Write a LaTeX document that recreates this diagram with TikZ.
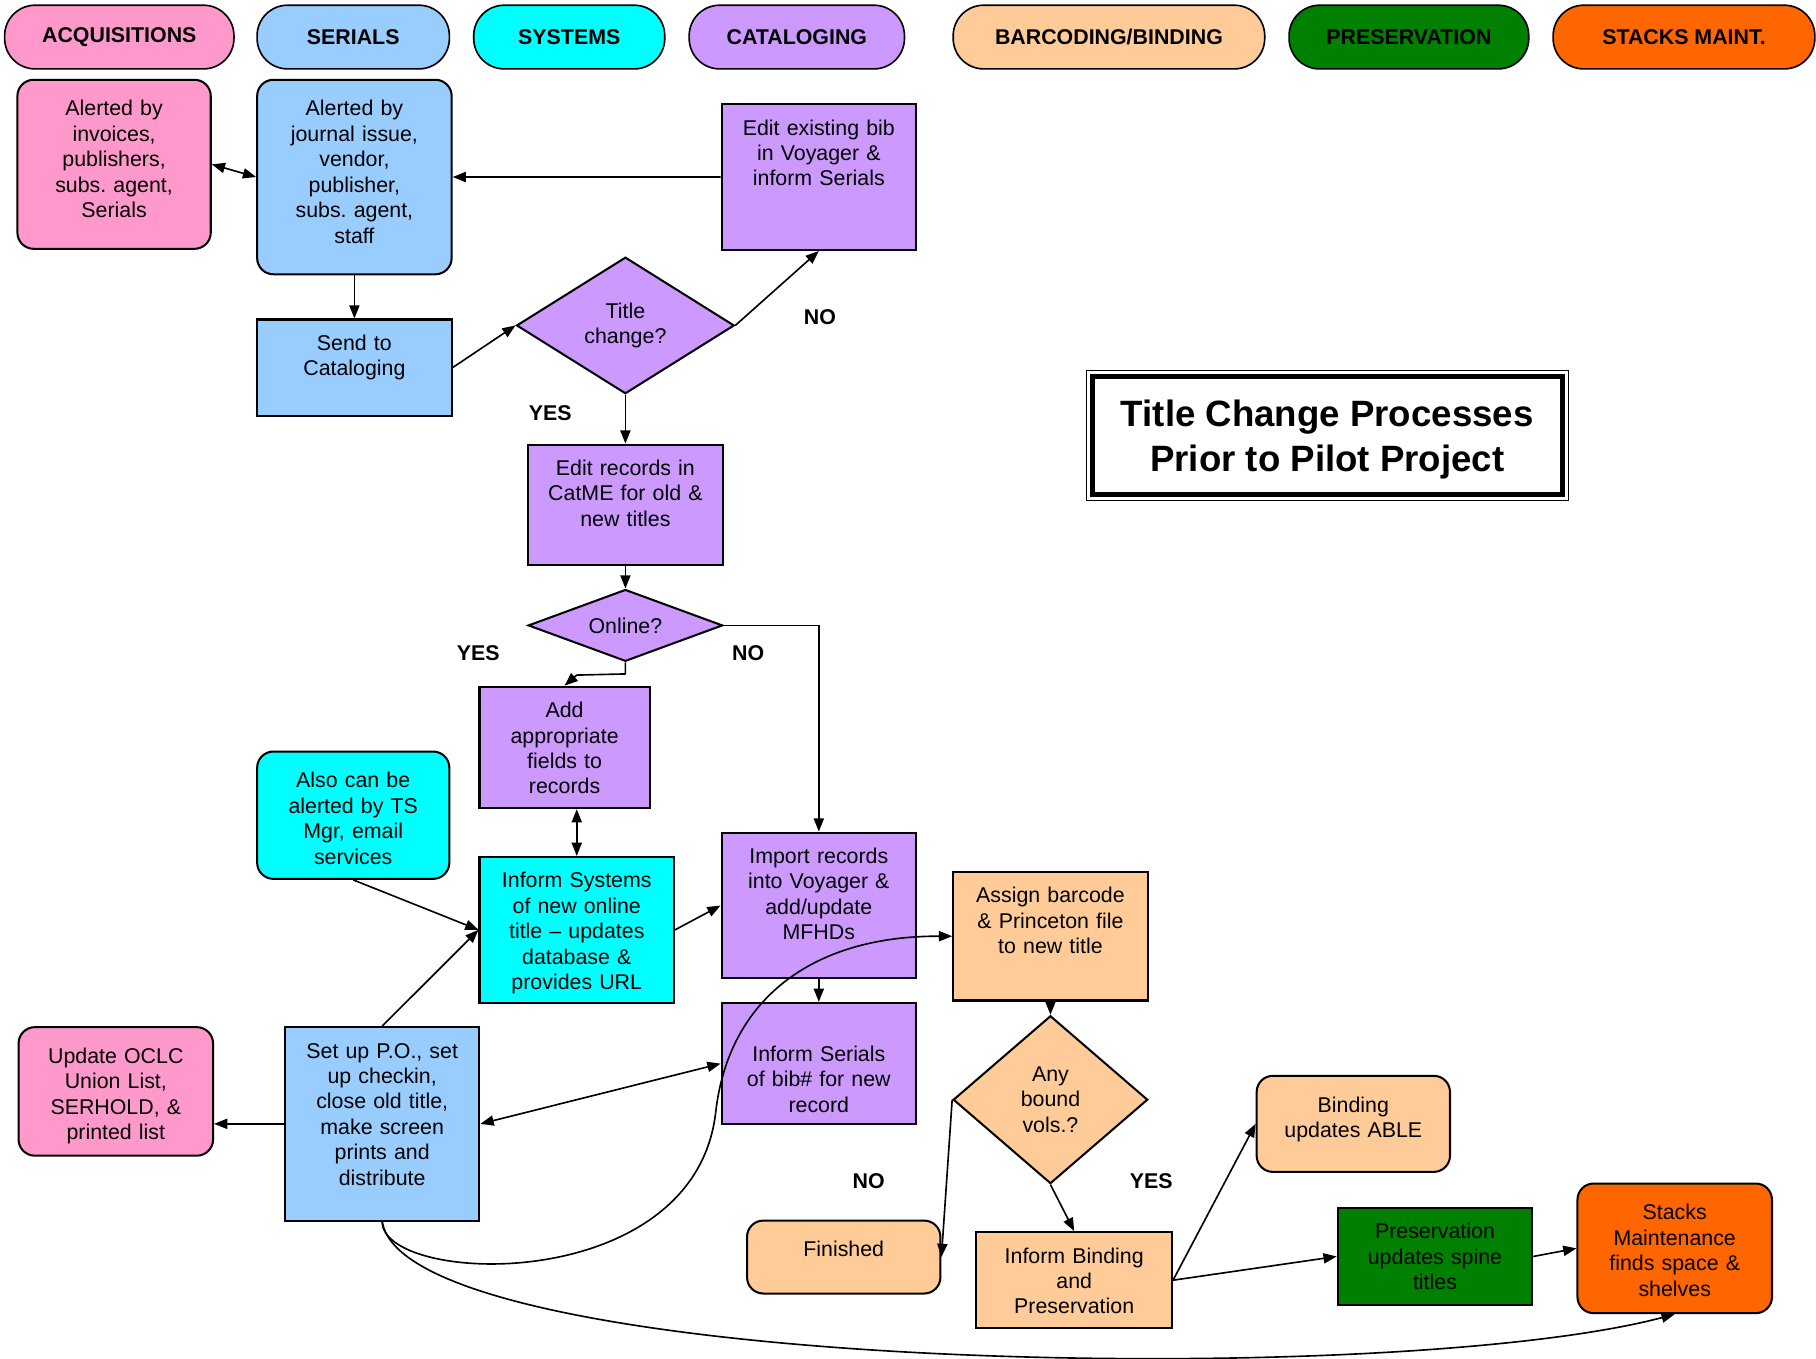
\documentclass[tikz,border=0pt]{standalone}
\usepackage{fontspec}
\setmainfont{Liberation Sans}
\usepackage{tikz}
\usetikzlibrary{shapes.geometric, arrows.meta}
\frenchspacing

\definecolor{acqpink}{HTML}{FF99CC}
\definecolor{serblue}{HTML}{99CCFF}
\definecolor{syscyan}{HTML}{00FFFF}
\definecolor{catpurple}{HTML}{CC99FF}
\definecolor{barpeach}{HTML}{FFCC99}
\definecolor{presgreen}{HTML}{008000}
\definecolor{stkorange}{HTML}{FF6600}

\begin{document}
\begin{tikzpicture}[x=0.02cm, y=-0.02cm, >={Triangle[length=6.5pt, width=5pt]},
    lane/.style={draw, line width=0.8pt, rounded corners=15pt, minimum height=31.3pt,
        font=\fontsize{10.5}{12.5}\selectfont\bfseries},
    stepbox/.style 2 args={draw, line width=1pt, anchor=north, align=center,
        inner xsep=3pt, inner ysep=6.8pt, text height=8.4pt,
        text width={#1*0.569pt-6pt}, text depth={#2*0.569pt-22pt},
        font=\fontsize{10.5}{12.5}\selectfont},
    roundbox/.style 2 args={stepbox={#1}{#2}, rounded corners=8pt,
        text height=11pt, text depth={#2*0.569pt-24.6pt}},
    decision/.style={draw, diamond, line width=1pt, inner sep=0pt, align=center,
        font=\fontsize{10.5}{12.5}\selectfont},
    answer/.style={font=\fontsize{10.5}{12.5}\selectfont\bfseries},
    link/.style={line width=0.8pt}]
    \useasboundingbox (0,0) rectangle (1568,1173);

    % Lanes
    \node[lane, fill=acqpink, minimum width=112.7pt] (hAcq) at (103,32) {ACQUISITIONS};
    \node[lane, fill=serblue, minimum width=94.5pt] (hSer) at (305,32) {SERIALS};
    \node[lane, fill=syscyan, minimum width=93.9pt] (hSys) at (491.5,32) {SYSTEMS};
    \node[lane, fill=catpurple, minimum width=105.8pt] (hCat) at (688,32) {CATALOGING};
    \node[lane, fill=barpeach, minimum width=153.1pt] (hBar) at (957.5,32) {BARCODING/BINDING};
    \node[lane, fill=presgreen, minimum width=117.8pt] (hPre) at (1216.5,32) {PRESERVATION};
    \node[lane, fill=stkorange, minimum width=128.6pt] (hStk) at (1454,32) {STACKS MAINT.};

    % Title
    \node[draw, line width=2.4pt, outer sep=0pt, minimum width=231pt, minimum height=58pt, align=center,
        text depth=0pt, font=\fontsize{18}{22}\selectfont\bfseries] (title) at (1146,376) {Title Change Processes\\Prior to Pilot Project};
    \draw[line width=0.6pt] ([shift={(-2.9pt,2.9pt)}]title.north west) rectangle ([shift={(2.9pt,-2.9pt)}]title.south east);

    % Alerts and cataloging
    \node[roundbox={167}{146}, fill=acqpink] (acqAlert) at (98.5,68) {Alerted by\\invoices,\\publishers,\\subs. agent,\\Serials};
    \node[roundbox={168}{168}, fill=serblue] (serAlert) at (306,68) {Alerted by\\journal issue,\\vendor,\\publisher,\\subs. agent,\\staff};
    \node[stepbox={168}{126}, fill=catpurple] (editBib) at (707,89) {Edit existing bib\\in Voyager \&\\inform Serials};
    \node[stepbox={168}{83}, fill=serblue] (sendCat) at (306,275) {Send to\\Cataloging};
    \node[decision, fill=catpurple, minimum width=107pt, minimum height=67.1pt, aspect=1.6] (titleQ) at (540,281) {Title\\change?};
    \node[stepbox={168}{104}, fill=catpurple] (editRec) at (540,383) {Edit records in\\CatME for old \&\\new titles};
    \node[decision, fill=catpurple, minimum width=95.6pt, minimum height=35.3pt, aspect=2.7] (onlineQ) at (540,540) {Online?};
    \node[stepbox={147}{105}, fill=catpurple] (addFields) at (487.5,592) {Add\\appropriate\\fields to\\records};
    \node[roundbox={166}{110}, fill=syscyan] (alsoTS) at (305,648) {Also can be\\alerted by TS\\Mgr, email\\services};
    \node[stepbox={168}{126}, fill=syscyan] (informSys) at (498,739) {Inform Systems\\of new online\\title – updates\\database \&\\provides URL};
    \node[stepbox={168}{126}, fill=catpurple] (importRec) at (707,718) {Import records\\into Voyager \&\\add/update\\MFHDs};
    \node[stepbox={168}{105}, fill=catpurple, text height=22pt, text depth={105*0.569pt-35.6pt}] (informSer) at (707,865) {Inform Serials\\of bib\# for new\\record};

    % Serials and acquisitions follow-up
    \node[roundbox={168}{111}, fill=acqpink] (updOCLC) at (100,886) {Update OCLC\\Union List,\\SERHOLD, \&\\printed list};
    \node[stepbox={168}{167}, fill=serblue] (setupPO) at (330,886) {Set up P.O., set\\up checkin,\\close old title,\\make screen\\prints and\\distribute};

    % Barcoding, binding, preservation, stacks
    \node[stepbox={168}{111}, fill=barpeach] (assignBar) at (907,752) {Assign barcode\\\& Princeton file\\to new title};
    \node[decision, fill=barpeach, minimum width=95.6pt, minimum height=82.5pt, aspect=1.16] (boundQ) at (907,949.5) {Any\\bound\\vols.?};
    \node[roundbox={167}{83}, fill=barpeach] (bindABLE) at (1168.5,928) {Binding\\updates ABLE};
    \node[roundbox={167}{63}, fill=barpeach] (finished) at (728.5,1053) {Finished};
    \node[stepbox={169}{83}, fill=barpeach] (informBind) at (927.5,1063) {Inform Binding\\and\\Preservation};
    \node[stepbox={168}{84}, fill=presgreen] (presSpine) at (1239,1042) {Preservation\\updates spine\\titles};
    \node[roundbox={168}{112}, fill=stkorange] (stacksShelf) at (1446,1021) {Stacks\\Maintenance\\finds space \&\\shelves};

    % YES / NO
    \node[answer] (noBib) at (708,274) {NO};
    \node[answer] (yesEdit) at (475,357) {YES};
    \node[answer] (yesAdd) at (413,564) {YES};
    \node[answer] (noImport) at (646,564) {NO};
    \node[answer] (noDone) at (750,1020) {NO};
    \node[answer] (yesBind) at (994,1020) {YES};

    % Connectors
    \draw[link, <->] (acqAlert.east) -- (serAlert.west);
    \draw[link, ->] (editBib.west) -- (serAlert.east);
    \draw[link, ->] (serAlert.south) -- (sendCat.north);
    \draw[link, ->] (sendCat.east) -- (titleQ.west);
    \draw[link, ->] (titleQ.east) -- (editBib.south);
    \draw[link, ->] (titleQ.south) -- (editRec.north);
    \draw[link, ->] (editRec.south) -- (onlineQ.north);
    \draw[link, ->] (onlineQ.south) -- ++(0,10) -- ++(-42,1) -- (addFields.north);
    \draw[link, ->] (onlineQ.east) -| (importRec.north);
    \draw[link, <->] (informSys.north |- addFields.south) -- (informSys.north);
    \draw[link, ->] (alsoTS.south) -- (informSys.west);
    \draw[link, ->] (setupPO.north) -- (informSys.west);
    \draw[link, ->] (informSys.east) -- (importRec.west);
    \draw[link, ->] (importRec.south) -- (informSer.north);
    \draw[link, <->] (setupPO.east) -- (informSer.west);
    \draw[link, ->] (setupPO.west) -- (updOCLC.east |- setupPO.west);
    \draw[link, ->] (setupPO.south) .. controls (330,1110) and (600,1120) .. (618,960)
        .. controls (629,864) and (700,808) .. (assignBar.west);
    \draw[link, ->] (setupPO.south) .. controls (350,1185) and (1200,1200) .. (stacksShelf.south);
    \draw[link, ->] (assignBar.south) -- (boundQ.north);
    \draw[link, ->] (boundQ.west) -- (finished.east);
    \draw[link, ->] (boundQ.south) -- (informBind.north);
    \draw[link, ->] (informBind.east) -- (bindABLE.west);
    \draw[link, ->] (informBind.east) -- (presSpine.west);
    \draw[link, ->] (presSpine.east) -- (stacksShelf.west);
\end{tikzpicture}
\end{document}
